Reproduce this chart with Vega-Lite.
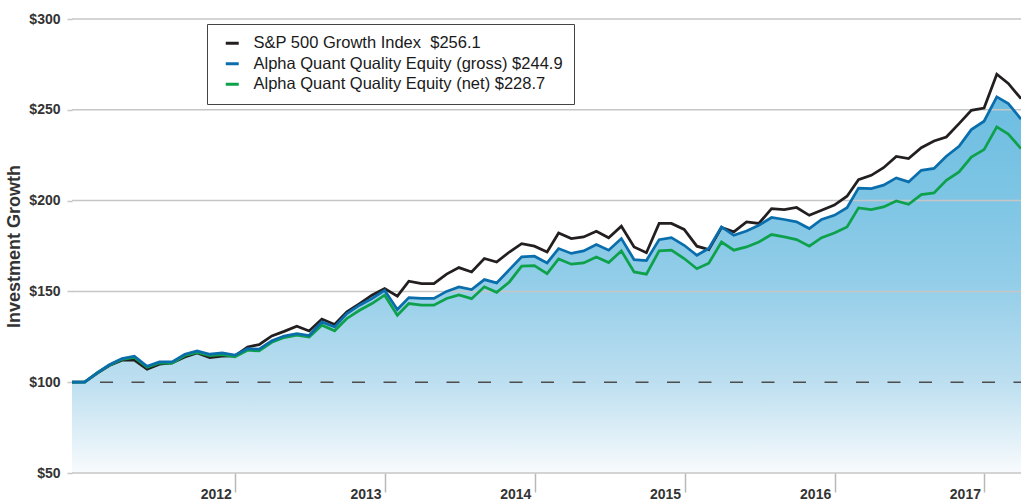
{
  "$schema": "https://vega.github.io/schema/vega-lite/v6.json",
  "width": 949,
  "height": 454,
  "autosize": {"type": "none"},
  "padding": {"left": 72, "top": 19, "right": 0, "bottom": 27},
  "background": "white",
  "config": {"view": {"stroke": null}, "font": "Liberation Sans"},
  "datasets": {
    "perf": [
      {"date": "2011-11-30", "sp": 100, "gross": 100, "net": 100},
      {"date": "2011-12-31", "sp": 100.2, "gross": 100.1, "net": 100.0},
      {"date": "2012-01-31", "sp": 105.0, "gross": 105.3, "net": 105.2},
      {"date": "2012-02-29", "sp": 109.2, "gross": 109.6, "net": 109.4},
      {"date": "2012-03-31", "sp": 112.1, "gross": 113.0, "net": 112.6},
      {"date": "2012-04-30", "sp": 112.1, "gross": 114.3, "net": 113.6},
      {"date": "2012-05-31", "sp": 107.2, "gross": 108.8, "net": 108.2},
      {"date": "2012-06-30", "sp": 109.9, "gross": 111.2, "net": 110.6},
      {"date": "2012-07-31", "sp": 110.6, "gross": 111.2, "net": 110.5},
      {"date": "2012-08-31", "sp": 113.9, "gross": 115.4, "net": 114.7},
      {"date": "2012-09-30", "sp": 116.1, "gross": 117.2, "net": 116.4},
      {"date": "2012-10-31", "sp": 113.6, "gross": 115.4, "net": 114.6},
      {"date": "2012-11-30", "sp": 114.3, "gross": 116.1, "net": 115.2},
      {"date": "2012-12-31", "sp": 114.5, "gross": 114.9, "net": 114.0},
      {"date": "2013-01-31", "sp": 119.4, "gross": 118.5, "net": 117.6},
      {"date": "2013-02-28", "sp": 120.7, "gross": 118.2, "net": 117.2},
      {"date": "2013-03-31", "sp": 125.5, "gross": 122.8, "net": 122.0},
      {"date": "2013-04-30", "sp": 128.0, "gross": 125.4, "net": 124.6},
      {"date": "2013-05-31", "sp": 130.8, "gross": 126.8, "net": 125.9},
      {"date": "2013-06-30", "sp": 128.2, "gross": 125.7, "net": 124.9},
      {"date": "2013-07-31", "sp": 134.8, "gross": 133.2, "net": 131.4},
      {"date": "2013-08-31", "sp": 131.8, "gross": 130.4, "net": 128.3},
      {"date": "2013-09-30", "sp": 138.7, "gross": 137.8, "net": 135.1},
      {"date": "2013-10-31", "sp": 143.3, "gross": 142.4, "net": 139.6},
      {"date": "2013-11-30", "sp": 147.9, "gross": 146.1, "net": 143.3},
      {"date": "2013-12-31", "sp": 151.6, "gross": 150.6, "net": 147.9},
      {"date": "2014-01-31", "sp": 147.4, "gross": 140.0, "net": 136.9},
      {"date": "2014-02-28", "sp": 155.6, "gross": 146.6, "net": 143.3},
      {"date": "2014-03-31", "sp": 154.3, "gross": 146.1, "net": 142.4},
      {"date": "2014-04-30", "sp": 154.3, "gross": 146.1, "net": 142.4},
      {"date": "2014-05-31", "sp": 159.5, "gross": 150.0, "net": 146.1},
      {"date": "2014-06-30", "sp": 163.1, "gross": 152.5, "net": 148.0},
      {"date": "2014-07-31", "sp": 160.7, "gross": 151.0, "net": 146.0},
      {"date": "2014-08-31", "sp": 168.1, "gross": 156.5, "net": 152.5},
      {"date": "2014-09-30", "sp": 166.2, "gross": 154.7, "net": 149.5},
      {"date": "2014-10-31", "sp": 171.7, "gross": 162.0, "net": 155.2},
      {"date": "2014-11-30", "sp": 176.3, "gross": 169.0, "net": 163.9},
      {"date": "2014-12-31", "sp": 174.9, "gross": 169.4, "net": 164.2},
      {"date": "2015-01-31", "sp": 171.7, "gross": 165.7, "net": 159.8},
      {"date": "2015-02-28", "sp": 182.2, "gross": 173.6, "net": 167.9},
      {"date": "2015-03-31", "sp": 179.1, "gross": 170.9, "net": 165.0},
      {"date": "2015-04-30", "sp": 180.0, "gross": 172.3, "net": 165.7},
      {"date": "2015-05-31", "sp": 183.1, "gross": 175.8, "net": 169.0},
      {"date": "2015-06-30", "sp": 179.5, "gross": 172.7, "net": 165.9},
      {"date": "2015-07-31", "sp": 185.9, "gross": 179.1, "net": 172.3},
      {"date": "2015-08-31", "sp": 174.5, "gross": 167.5, "net": 160.7},
      {"date": "2015-09-30", "sp": 171.3, "gross": 167.0, "net": 159.5},
      {"date": "2015-10-31", "sp": 187.4, "gross": 178.5, "net": 172.3},
      {"date": "2015-11-30", "sp": 187.4, "gross": 179.6, "net": 172.7},
      {"date": "2015-12-31", "sp": 184.1, "gross": 175.4, "net": 168.1},
      {"date": "2016-01-31", "sp": 174.9, "gross": 169.9, "net": 162.5},
      {"date": "2016-02-29", "sp": 173.0, "gross": 173.6, "net": 165.5},
      {"date": "2016-03-31", "sp": 185.2, "gross": 185.5, "net": 177.2},
      {"date": "2016-04-30", "sp": 182.8, "gross": 180.9, "net": 172.7},
      {"date": "2016-05-31", "sp": 188.3, "gross": 183.3, "net": 174.5},
      {"date": "2016-06-30", "sp": 187.4, "gross": 186.4, "net": 177.2},
      {"date": "2016-07-31", "sp": 195.6, "gross": 190.7, "net": 181.3},
      {"date": "2016-08-31", "sp": 195.1, "gross": 189.6, "net": 180.0},
      {"date": "2016-09-30", "sp": 196.2, "gross": 188.3, "net": 178.5},
      {"date": "2016-10-31", "sp": 191.9, "gross": 184.6, "net": 174.9},
      {"date": "2016-11-30", "sp": 194.7, "gross": 189.6, "net": 179.6},
      {"date": "2016-12-31", "sp": 197.5, "gross": 191.9, "net": 182.2},
      {"date": "2017-01-31", "sp": 202.4, "gross": 196.1, "net": 185.5},
      {"date": "2017-02-28", "sp": 211.5, "gross": 206.9, "net": 196.0},
      {"date": "2017-03-31", "sp": 213.9, "gross": 206.6, "net": 195.1},
      {"date": "2017-04-30", "sp": 218.1, "gross": 208.5, "net": 196.5},
      {"date": "2017-05-31", "sp": 224.3, "gross": 212.5, "net": 199.8},
      {"date": "2017-06-30", "sp": 223.1, "gross": 210.3, "net": 198.0},
      {"date": "2017-07-31", "sp": 229.1, "gross": 216.7, "net": 203.3},
      {"date": "2017-08-31", "sp": 232.8, "gross": 217.7, "net": 204.2},
      {"date": "2017-09-30", "sp": 235.0, "gross": 224.4, "net": 211.2},
      {"date": "2017-10-31", "sp": 242.4, "gross": 229.9, "net": 215.8},
      {"date": "2017-11-30", "sp": 249.7, "gross": 239.1, "net": 224.0},
      {"date": "2017-12-31", "sp": 251.0, "gross": 243.7, "net": 228.1},
      {"date": "2018-01-31", "sp": 269.6, "gross": 257.1, "net": 240.6},
      {"date": "2018-02-28", "sp": 264.5, "gross": 253.4, "net": 236.6},
      {"date": "2018-03-31", "sp": 256.1, "gross": 244.9, "net": 228.7}
    ],
    "grid": [{"v": 50}, {"v": 150}, {"v": 200}, {"v": 250}, {"v": 300}],
    "base": [{"v": 100}]
  },
  "layer": [
    {
      "data": {"name": "perf"},
      "mark": {
        "type": "area",
        "color": {
          "x1": 0, "y1": 0, "x2": 0, "y2": 1, "gradient": "linear",
          "stops": [
            {"offset": 0, "color": "#6cbde1"},
            {"offset": 0.3, "color": "#80c6e5"},
            {"offset": 0.5, "color": "#94cee9"},
            {"offset": 0.76, "color": "#bddff0"},
            {"offset": 1, "color": "#f8fbfd"}
          ]
        }
      },
      "encoding": {
        "x": {
          "field": "date", "type": "temporal",
          "scale": {"type": "utc", "domain": [{"year": 2011, "month": 11, "date": 30, "utc": true}, {"year": 2018, "month": 3, "date": 31, "utc": true}]},
          "axis": {
            "title": null,
            "values": [
              {"year": 2013, "month": 1, "date": 1, "utc": true},
              {"year": 2014, "month": 1, "date": 1, "utc": true},
              {"year": 2015, "month": 1, "date": 1, "utc": true},
              {"year": 2016, "month": 1, "date": 1, "utc": true},
              {"year": 2017, "month": 1, "date": 1, "utc": true},
              {"year": 2018, "month": 1, "date": 1, "utc": true}
            ],
            "labelExpr": "'' + (utcyear(datum.value) - 1)",
            "domain": false, "grid": false,
            "tickSize": 19, "tickColor": "#b8b8b8", "tickWidth": 1.5,
            "labelFont": "Liberation Sans", "labelFontWeight": "bold", "labelFontSize": 14, "labelColor": "#333333",
            "labelAlign": "right", "labelOffset": -4, "labelBaseline": "alphabetic", "labelPadding": 6,
            "labelFlush": false, "labelOverlap": false
          }
        },
        "y": {
          "field": "gross", "type": "quantitative",
          "scale": {"domain": [50, 300], "nice": false, "zero": false},
          "axis": {
            "values": [50, 100, 150, 200, 250, 300],
            "labelExpr": "'$' + datum.value",
            "grid": false, "domain": false,
            "tickSize": 5, "tickColor": "#c6c6c6", "tickWidth": 1.5,
            "labelFont": "Liberation Sans", "labelFontWeight": "bold", "labelFontSize": 14, "labelColor": "#333333",
            "labelPadding": 7,
            "title": "Investment Growth", "titleFont": "Liberation Sans", "titleFontSize": 18, "titleFontWeight": "bold",
            "titleColor": "#333333", "titlePadding": 5
          }
        },
        "y2": {"datum": 50}
      }
    },
    {
      "data": {"name": "grid"},
      "mark": {"type": "rule", "color": "#c6c6c6", "strokeWidth": 1.5},
      "encoding": {"y": {"field": "v", "type": "quantitative"}}
    },
    {
      "data": {"name": "base"},
      "mark": {"type": "rule", "color": "#4d4d4d", "strokeWidth": 1.5, "strokeDash": [13, 18.5], "strokeDashOffset": 5.5},
      "encoding": {"y": {"field": "v", "type": "quantitative"}}
    },
    {
      "data": {"name": "perf"},
      "mark": {"type": "line", "strokeWidth": 2.75},
      "encoding": {
        "x": {"field": "date", "type": "temporal"},
        "y": {"field": "sp", "type": "quantitative"},
        "color": {
          "datum": "sp", "type": "nominal",
          "scale": {"domain": ["sp", "gross", "net"], "range": ["#231f20", "#0a6ead", "#0ea14b"]},
          "legend": {
            "orient": "none", "legendX": 135, "legendY": 5, "title": null,
            "symbolType": "stroke", "symbolStrokeWidth": 3, "symbolSize": 169,
            "symbolOffset": 6, "labelOffset": 13,
            "labelFont": "Liberation Sans", "labelFontSize": 16.5, "labelColor": "#1a1a1a", "labelLimit": 0,
            "padding": 11, "rowPadding": 3.5,
            "strokeColor": "#444444", "fillColor": "white",
            "labelExpr": "datum.value == 'sp' ? 'S&P 500 Growth Index\u00a0\u00a0$256.1' : datum.value == 'gross' ? 'Alpha Quant Quality Equity (gross) $244.9\u00a0\u00a0' : 'Alpha Quant Quality Equity (net) $228.7'"
          }
        }
      }
    },
    {
      "data": {"name": "perf"},
      "mark": {"type": "line", "strokeWidth": 2.75},
      "encoding": {
        "x": {"field": "date", "type": "temporal"},
        "y": {"field": "net", "type": "quantitative"},
        "color": {"datum": "net", "type": "nominal"}
      }
    },
    {
      "data": {"name": "perf"},
      "mark": {"type": "line", "strokeWidth": 2.75},
      "encoding": {
        "x": {"field": "date", "type": "temporal"},
        "y": {"field": "gross", "type": "quantitative"},
        "color": {"datum": "gross", "type": "nominal"}
      }
    }
  ]
}
